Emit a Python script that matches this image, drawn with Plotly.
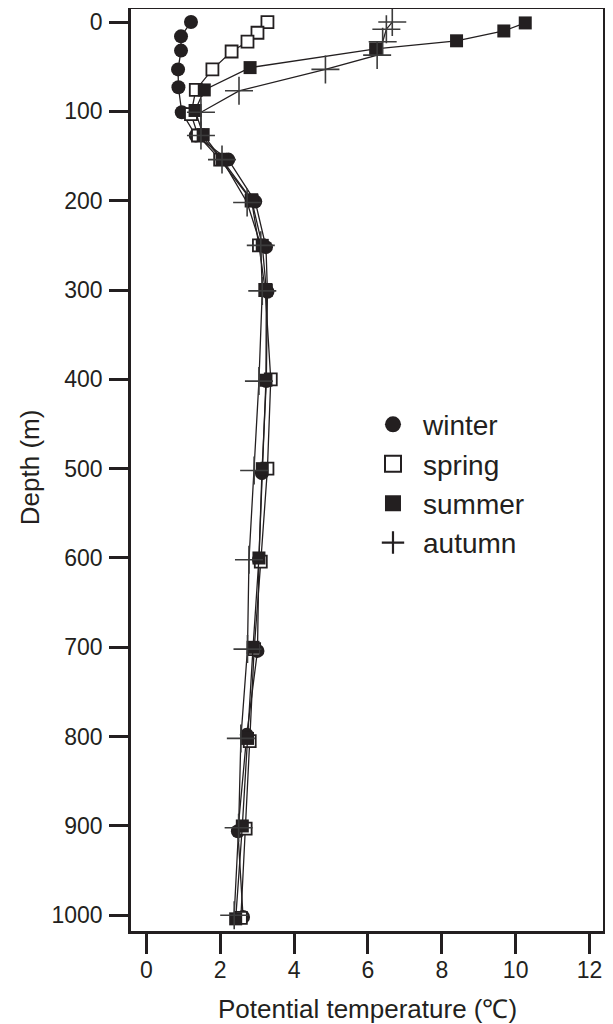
import plotly.graph_objects as go

# ---- data ----
winter_depth = [0, 16, 32, 53, 73, 101, 127, 154, 201, 252, 302, 402, 505, 602, 704, 798, 906, 1002]
winter_temp = [1.21, 0.94, 0.94, 0.86, 0.87, 0.96, 1.34, 2.22, 2.95, 3.24, 3.28, 3.25, 3.13, 3.05, 3.01, 2.72, 2.48, 2.62]

spring_depth = [0, 12, 22, 33, 53, 76, 103, 127, 154, 200, 250, 300, 400, 500, 604, 702, 805, 903, 1003]
spring_temp = [3.28, 3.01, 2.74, 2.31, 1.79, 1.34, 1.21, 1.40, 2.00, 2.85, 3.05, 3.22, 3.37, 3.28, 3.10, 2.92, 2.80, 2.69, 2.56]

summer_depth = [1, 10, 21, 30, 51, 76, 99, 126, 154, 199, 250, 300, 401, 500, 600, 700, 802, 900, 1004]
summer_temp = [10.26, 9.68, 8.40, 6.21, 2.81, 1.57, 1.32, 1.54, 2.05, 2.85, 3.14, 3.25, 3.24, 3.14, 3.05, 2.89, 2.74, 2.60, 2.42]

autumn_depth = [0, 8, 22, 37, 53, 77, 101, 127, 154, 202, 250, 301, 402, 502, 602, 702, 802, 902, 1000]
autumn_temp = [6.66, 6.50, 6.40, 6.25, 4.85, 2.51, 1.48, 1.48, 2.05, 2.73, 3.10, 3.14, 3.05, 2.92, 2.78, 2.74, 2.56, 2.50, 2.38]

series_names = ["winter", "spring", "summer", "autumn"]
x_ticks = [0, 2, 4, 6, 8, 10, 12]
y_ticks = [0, 100, 200, 300, 400, 500, 600, 700, 800, 900, 1000]

INK = "#231f20"
CROSS = "#3c3c3c"

marker_styles = {
    "winter": dict(symbol="circle", size=14, color=INK, line=dict(width=0)),
    "spring": dict(symbol="square", size=12, color="white", line=dict(width=1.8, color=INK)),
    "summer": dict(symbol="square", size=13, color=INK, line=dict(width=0)),
    "autumn": dict(symbol="cross-thin", size=20, color=CROSS, line=dict(width=1.6, color=CROSS)),
}
legend_styles = {
    "winter": dict(symbol="circle", size=20, color=INK, line=dict(width=0)),
    "spring": dict(symbol="square", size=18, color="white", line=dict(width=2, color=INK)),
    "summer": dict(symbol="square", size=18, color=INK, line=dict(width=0)),
    "autumn": dict(symbol="cross-thin", size=20, color=INK, line=dict(width=2.2, color=INK)),
}
data = {
    "winter": (winter_temp, winter_depth),
    "spring": (spring_temp, spring_depth),
    "summer": (summer_temp, summer_depth),
    "autumn": (autumn_temp, autumn_depth),
}

fig = go.Figure()
for name in series_names:
    t, d = data[name]
    fig.add_trace(go.Scatter(
        x=t, y=d, mode="lines+markers", name=name, showlegend=False,
        line=dict(color=INK, width=1.3), marker=marker_styles[name],
    ))
# legend entries (no data of their own)
for name in series_names:
    fig.add_trace(go.Scatter(
        x=[None], y=[None], mode="markers", name=name, legendgroup=name,
        marker=legend_styles[name],
    ))

# page body adds an 8px margin, so the figure is 8px smaller than the window
fig.update_layout(
    width=605, height=1016,
    margin=dict(l=123, r=10, t=1, b=93, autoexpand=False),
    paper_bgcolor="white", plot_bgcolor="white",
    font=dict(family="Liberation Sans, Arial, sans-serif", color=INK),
    showlegend=True,
    legend=dict(
        x=0.4915, y=0.5763, xanchor="left", yanchor="top",
        font=dict(size=28, family="Liberation Sans, Arial, sans-serif", color=INK),
        bgcolor="rgba(0,0,0,0)", tracegroupgap=0, itemsizing="trace", itemwidth=50,
    ),
)
fig.update_xaxes(
    range=[-0.414, 12.365], tickvals=x_ticks, ticktext=[str(v) for v in x_ticks],
    showgrid=False, zeroline=False, showline=True, linewidth=2.5, linecolor=INK, mirror=True,
    ticks="outside", ticklen=20, tickwidth=2.5, tickcolor=INK, automargin=False,
    ticklabelstandoff=-3,
    tickfont=dict(family="Liberation Sans, Arial, sans-serif", size=23, color=INK),
)
fig.update_yaxes(
    range=[1017.6, -14.6], tickvals=y_ticks, ticktext=[str(v) for v in y_ticks],
    showgrid=False, zeroline=False, showline=True, linewidth=2.5, linecolor=INK, mirror=True,
    ticks="outside", ticklen=19, tickwidth=2.5, tickcolor=INK, automargin=False,
    ticklabelstandoff=2,
    tickfont=dict(family="Liberation Sans, Arial, sans-serif", size=23, color=INK),
)
fig.add_annotation(
    text="Potential temperature (℃)", xref="paper", yref="paper", x=0.5, y=-0.085,
    xanchor="center", yanchor="middle", showarrow=False,
    font=dict(size=26, family="Liberation Sans, Arial, sans-serif", color=INK),
)
fig.add_annotation(
    text="Depth (m)", xref="paper", yref="paper", x=-0.214, y=0.503,
    xanchor="center", yanchor="middle", showarrow=False, textangle=-90,
    font=dict(size=26, family="Liberation Sans, Arial, sans-serif", color=INK),
)

fig.write_html("out.html")
